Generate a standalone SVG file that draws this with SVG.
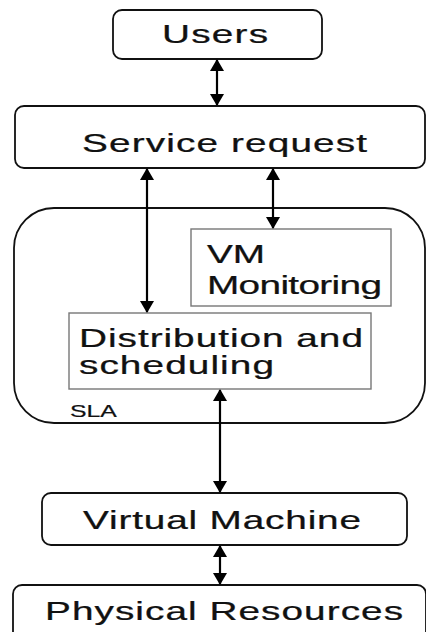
<svg xmlns="http://www.w3.org/2000/svg" width="426" height="632" viewBox="0 0 426 632">
<defs>
<marker id="ah" markerUnits="userSpaceOnUse" markerWidth="12" markerHeight="14" refX="11" refY="7" orient="auto-start-reverse">
<path d="M0,0 L12,7 L0,14 z" fill="#000"/>
</marker>
<style>
.box{fill:#fff;stroke:#111;stroke-width:1.8}
.inner{fill:#fff;stroke:#777;stroke-width:1.4}
.t{font-family:"Liberation Sans",Arial,sans-serif;font-size:25px;fill:#111;stroke:#111;stroke-width:0.25}
.s{font-family:"Liberation Sans",Arial,sans-serif;font-size:16px;fill:#111;stroke:#111;stroke-width:0.2}
.c{stroke:#000;stroke-width:2.2;fill:none;marker-start:url(#ah);marker-end:url(#ah)}
</style>
</defs>
<rect width="426" height="632" fill="#fff"/>
<g id="users">
<rect class="box" x="113" y="10" width="209" height="49" rx="9"/>
<text class="t" transform="translate(162 43) scale(1.55 1)" textLength="68.4" lengthAdjust="spacing">Users</text>
</g>
<g id="service-request">
<rect class="box" x="15" y="106" width="410" height="62" rx="9"/>
<text class="t" transform="translate(82 152) scale(1.55 1)" textLength="183.9" lengthAdjust="spacing">Service request</text>
</g>
<g id="sla">
<rect class="box" x="14" y="208" width="411" height="215" rx="40"/>
<text class="s" transform="translate(70 417) scale(1.55 1)">SLA</text>
</g>
<g id="vm-monitoring">
<rect class="inner" x="191" y="229" width="200" height="77"/>
<text class="t" transform="translate(207 263) scale(1.55 1)">VM</text>
<text class="t" transform="translate(207 294) scale(1.55 1)" textLength="112.9" lengthAdjust="spacing">Monitoring</text>
</g>
<g id="distribution">
<rect class="inner" x="69" y="313" width="302" height="76"/>
<text class="t" transform="translate(79 347) scale(1.55 1)" textLength="183.2" lengthAdjust="spacing">Distribution and</text>
<text class="t" transform="translate(79 374) scale(1.55 1)" textLength="125.8" lengthAdjust="spacing">scheduling</text>
</g>
<g id="virtual-machine">
<rect class="box" x="42" y="493" width="365" height="52" rx="9"/>
<text class="t" transform="translate(83 529) scale(1.55 1)" textLength="179.4" lengthAdjust="spacing">Virtual Machine</text>
</g>
<g id="physical-resources">
<rect class="box" x="13" y="585" width="413" height="60" rx="9"/>
<text class="t" transform="translate(45 620) scale(1.55 1)" textLength="231" lengthAdjust="spacing">Physical Resources</text>
</g>
<g id="connectors">
<line class="c" x1="217" y1="60" x2="217" y2="105"/>
<line class="c" x1="147" y1="169" x2="147" y2="312"/>
<line class="c" x1="273" y1="169" x2="273" y2="228"/>
<line class="c" x1="220" y1="390" x2="220" y2="492"/>
<line class="c" x1="220" y1="546" x2="220" y2="584"/>
</g>
</svg>
